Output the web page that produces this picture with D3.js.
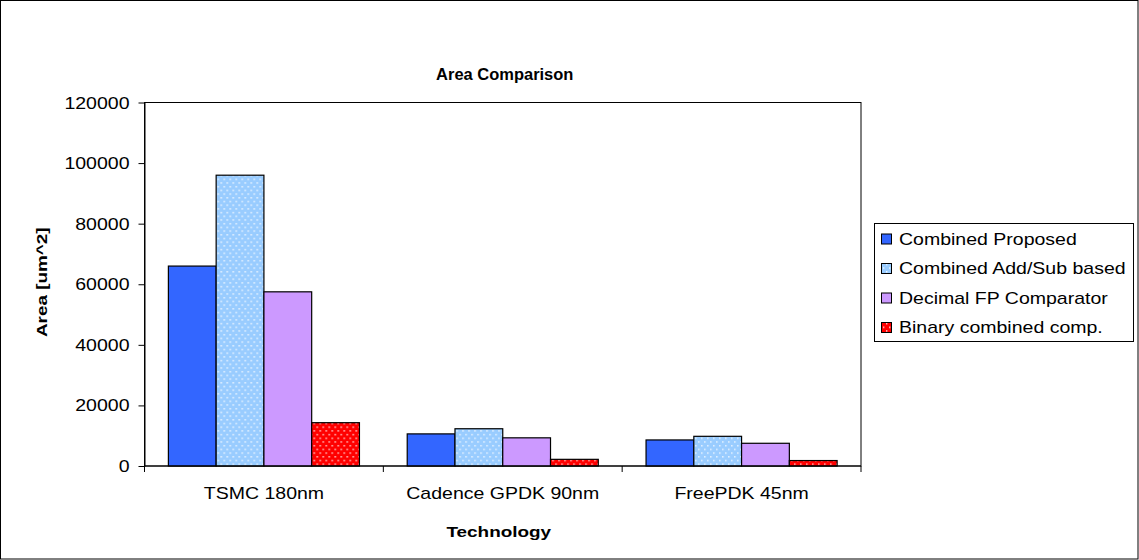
<!DOCTYPE html>
<html>
<head>
<meta charset="utf-8">
<script src="https://cdn.jsdelivr.net/npm/d3@7"></script>
<style>
  html, body { margin: 0; padding: 0; background: #fff; }
  svg text { font-family: "Liberation Sans", Arial, sans-serif; fill: #000; }
</style>
</head>
<body>
<svg id="chart" width="1139" height="560"></svg>
<script>
// ---- data ----
const categories = ["TSMC 180nm", "Cadence GPDK 90nm", "FreePDK 45nm"];
const seriesNames = ["Combined Proposed", "Combined Add/Sub based", "Decimal FP Comparator", "Binary combined comp."];
const combinedProposed = [66000, 10600, 8600];
const combinedAddSub = [96000, 12300, 9800];
const decimalFPComparator = [57500, 9300, 7500];
const binaryCombinedComp = [14300, 2200, 1800];
const yTicks = [0, 20000, 40000, 60000, 80000, 100000, 120000];
const chartTitle = "Area Comparison";
const xTitle = "Technology";
const yTitle = "Area [um^2]";

const seriesValues = [combinedProposed, combinedAddSub, decimalFPComparator, binaryCombinedComp];
const seriesFill = ["#3366FF", "url(#dotBlue)", "#CC99FF", "url(#dotRed)"];

// ---- layout ----
const W = 1139, H = 560;
const plot = { left: 144.5, top: 102.5, right: 861, bottom: 466 };
const SX = 1.22; // horizontal text stretch

const svg = d3.select("#chart");

// patterns
const defs = svg.append("defs");
function dotPattern(id, bg) {
  const p = defs.append("pattern").attr("id", id).attr("patternUnits", "userSpaceOnUse")
    .attr("width", 6).attr("height", 7.4);
  p.append("rect").attr("width", 6).attr("height", 7.4).attr("fill", bg);
  p.append("rect").attr("x", 1).attr("y", 1).attr("width", 1.4).attr("height", 1.4).attr("fill", "#fff").attr("opacity", 0.9);
  p.append("rect").attr("x", 4).attr("y", 4.7).attr("width", 1.4).attr("height", 1.4).attr("fill", "#fff").attr("opacity", 0.9);
}
dotPattern("dotBlue", "#99CCFF");
dotPattern("dotRed", "#FF0000");

// outer border
svg.append("rect").attr("x", 0.5).attr("y", 0.5).attr("width", W - 1.5).attr("height", H - 1.5)
  .attr("fill", "#fff").attr("stroke", "#000").attr("stroke-width", 1);

// stretched text helper
function stext(g, x, y, str, opts = {}) {
  const sx = opts.sx || SX;
  const t = g.append("text")
    .attr("transform", `translate(${x},${y})` + (opts.rotate ? ` rotate(${opts.rotate})` : "") + ` scale(${sx},1)`)
    .attr("text-anchor", opts.anchor || "start")
    .attr("font-size", opts.size || 16)
    .attr("font-weight", opts.weight || "normal")
    .text(str);
  return t;
}

// scales
const x0 = d3.scaleBand().domain(categories).range([plot.left, plot.right]).paddingInner(0).paddingOuter(0);
const bw = x0.bandwidth();
const x1 = d3.scaleBand().domain(d3.range(seriesNames.length)).range([bw * 0.1, bw * 0.9]).padding(0);
const y = d3.scaleLinear().domain([0, 120000]).range([plot.bottom, plot.top]);

// plot border
svg.append("rect").attr("x", plot.left).attr("y", plot.top)
  .attr("width", plot.right - plot.left).attr("height", plot.bottom - plot.top)
  .attr("fill", "#fff").attr("stroke", "#000").attr("stroke-width", 1);

// bars
const groups = svg.append("g").selectAll("g").data(categories).join("g")
  .attr("transform", d => `translate(${x0(d)},0)`);
groups.selectAll("rect").data((d, ci) => seriesValues.map((vals, si) => ({ si, v: vals[ci] })))
  .join("rect")
  .attr("x", d => x1(d.si))
  .attr("y", d => y(d.v))
  .attr("width", x1.bandwidth())
  .attr("height", d => plot.bottom - y(d.v))
  .attr("fill", d => seriesFill[d.si])
  .attr("stroke", "#000").attr("stroke-width", 1.2);

// y axis
const yAxis = svg.append("g").attr("transform", `translate(${plot.left},0)`)
  .call(d3.axisLeft(y).tickValues(yTicks).tickSize(6).tickSizeOuter(0).tickFormat(d3.format("d")));
yAxis.select(".domain").attr("stroke", "#000");
yAxis.selectAll(".tick line").attr("stroke", "#000");
yAxis.selectAll(".tick text").each(function (d) {
  const t = d3.select(this);
  t.attr("x", null).attr("dy", null)
    .attr("transform", `translate(-15,5.5) scale(${SX},1)`)
    .attr("font-size", 16).attr("font-family", null).attr("text-anchor", "end");
});

// x axis with ticks at category boundaries
const xb = svg.append("g");
xb.append("line").attr("x1", plot.left).attr("x2", plot.right).attr("y1", plot.bottom).attr("y2", plot.bottom).attr("stroke", "#000");
const boundaries = categories.map(c => x0(c)).concat([plot.right]);
xb.selectAll("line.tk").data(boundaries).join("line").attr("class", "tk")
  .attr("x1", d => d).attr("x2", d => d).attr("y1", plot.bottom).attr("y2", plot.bottom + 6).attr("stroke", "#000");
categories.forEach(c => stext(xb, x0(c) + bw / 2, 499, c, { anchor: "middle" }));

// titles
stext(svg, (plot.left + plot.right) / 2 + 2, 79.5, chartTitle, { anchor: "middle", weight: "bold", size: 17, sx: 0.97 });
stext(svg, (plot.left + plot.right) / 2 - 4, 537, xTitle, { anchor: "middle", weight: "bold", size: 15.5 });
stext(svg, 46.5, (plot.top + plot.bottom) / 2 - 2, yTitle, { anchor: "middle", weight: "bold", size: 15.5, rotate: -90 });

// legend
const lg = svg.append("g");
lg.append("rect").attr("x", 874.5).attr("y", 223.5).attr("width", 259).attr("height", 118)
  .attr("fill", "#fff").attr("stroke", "#000");
seriesNames.forEach((name, i) => {
  const cy = 239 + i * 29.5;
  lg.append("rect").attr("x", 881.5).attr("y", cy - 5).attr("width", 10).attr("height", 10)
    .attr("fill", seriesFill[i]).attr("stroke", "#000");
  stext(lg, 899, cy + 5.5, name, { size: 16 });
});
</script>
</body>
</html>
